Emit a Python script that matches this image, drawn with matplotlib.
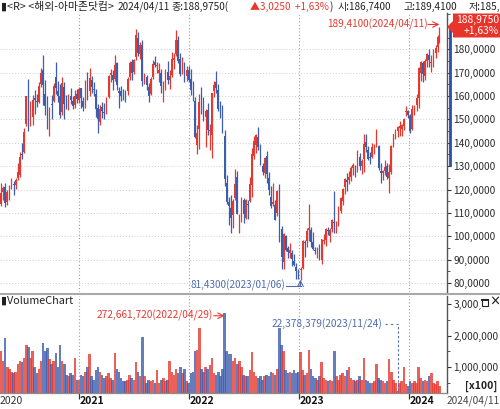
import matplotlib
matplotlib.use('Agg')
import matplotlib.pyplot as plt
import matplotlib.dates as mdates
import matplotlib.transforms as mtransforms
from matplotlib.patches import Polygon, Rectangle
from matplotlib.lines import Line2D
from matplotlib.ticker import MultipleLocator, FuncFormatter
import numpy as np
import pandas as pd

plt.rcParams['font.family'] = ['Noto Sans CJK KR', 'DejaVu Sans']

# ---------------- data (weekly candles) ----------------
week_dates = list(pd.date_range('2020-04-17', '2024-04-05', freq='W-FRI')) + [pd.Timestamp('2024-04-11')]

opens = [
    114.0,119.0,121.0,114.5,119.2,121.0,122.5,122.0,125.0,126.0,135.0,136.0,148.0,163.5,150.0,151.0,159.0,158.0,157.5,165.0,171.0,161.0,157.0,146.0,156.5,158.0,168.0,162.0,160.0,153.0,164.0,157.0,156.0,160.0,158.0,156.0,161.0,
    158.5,163.5,158.0,156.0,165.0,162.0,167.0,163.0,161.0,155.0,149.0,155.5,153.0,153.5,159.5,169.0,169.0,167.5,174.0,162.0,162.0,161.5,161.5,162.0,168.0,174.5,170.5,176.5,185.0,178.0,182.0,167.0,168.0,164.0,161.0,168.0,174.5,173.0,170.0,170.0,161.0,163.0,170.5,167.0,169.0,175.5,178.0,184.0,176.0,171.0,172.0,168.5,171.0,
    167.5,161.5,158.0,139.0,146.0,158.0,152.5,151.0,154.0,145.0,143.5,162.0,166.0,162.5,154.0,152.0,143.0,123.0,114.5,112.0,109.0,116.5,125.5,104.0,107.5,115.5,108.0,114.0,115.0,122.0,134.5,139.0,142.5,137.5,130.0,127.0,134.5,125.0,117.0,114.0,113.5,110.0,119.5,103.0,89.0,100.0,95.0,93.0,93.0,89.5,87.0,84.5,
    85.5,86.5,97.5,98.0,102.5,102.5,97.5,94.0,93.5,95.0,90.0,98.0,98.5,102.5,100.0,103.0,106.0,104.5,106.0,111.0,115.0,121.0,124.0,124.0,125.5,129.0,130.0,130.0,134.0,130.0,133.0,140.5,137.0,134.0,134.0,137.0,138.5,138.5,128.0,127.0,128.0,130.0,125.0,127.5,138.5,144.0,145.0,146.5,146.0,147.0,153.0,153.5,
    151.5,146.0,154.0,156.0,159.0,170.0,174.0,168.5,175.0,177.5,174.0,174.5,178.5,180.8,185.0,
]
highs = [
    123.0,121.6,122.9,120.0,122.1,125.0,123.5,125.0,131.5,136.0,140.0,146.5,160.0,167.2,158.0,160.5,162.5,161.0,166.0,172.0,177.6,167.0,160.0,155.5,160.5,165.5,174.5,166.5,165.0,168.0,166.0,160.5,161.0,163.5,160.0,162.5,163.0,
    164.0,163.6,159.5,167.0,170.5,172.0,168.5,166.0,163.0,156.5,156.0,157.5,157.0,159.5,169.0,171.5,171.0,177.7,174.5,164.0,164.5,163.0,162.5,168.0,175.0,176.0,176.0,188.6,187.5,183.0,184.0,170.0,169.0,165.5,168.0,175.5,177.2,174.5,174.0,171.5,166.5,171.5,175.0,171.0,179.0,178.5,188.1,185.5,178.5,176.5,174.5,173.0,173.0,
    171.4,166.5,159.5,147.5,161.0,163.8,159.5,154.5,157.0,148.0,161.5,166.5,170.8,165.0,158.0,156.0,145.5,126.0,117.0,117.5,116.0,128.9,128.0,109.5,116.7,116.5,116.0,115.5,125.3,137.7,143.0,143.6,146.6,139.5,131.5,134.0,136.5,127.5,121.5,123.0,115.5,120.0,122.3,104.5,101.5,100.5,96.0,97.2,94.0,92.5,88.5,86.0,
    86.9,98.3,98.5,103.5,114.0,103.9,101.9,95.5,95.5,96.5,99.0,101.0,103.5,103.9,103.5,107.3,119.5,106.5,113.0,116.7,120.5,125.0,127.0,127.9,130.0,131.5,130.6,136.7,135.7,133.0,143.6,143.6,138.5,136.0,139.9,139.5,145.9,139.0,131.5,128.5,132.5,131.5,130.8,139.0,143.6,146.0,147.2,149.3,148.0,150.6,155.6,154.0,
    152.4,156.2,156.0,160.7,172.5,175.0,175.0,176.0,178.5,180.1,177.5,180.0,181.7,186.3,189.41,
]
lows = [
    113.0,115.7,112.7,113.5,115.5,120.2,117.5,120.4,124.2,125.5,133.0,135.5,147.0,145.0,147.0,147.5,152.5,155.5,157.0,164.0,156.0,152.0,146.0,143.0,150.0,157.5,161.0,157.5,150.5,152.0,150.0,154.5,154.0,156.5,154.5,155.0,157.0,
    157.0,155.0,153.5,155.0,158.5,160.0,161.5,160.0,151.0,144.1,147.5,150.5,150.0,152.5,159.0,166.0,162.5,166.5,162.5,155.0,158.0,158.5,157.5,160.5,167.0,167.0,169.5,175.5,177.0,176.0,164.5,165.0,162.5,157.4,160.5,167.5,172.5,170.0,166.0,161.5,157.5,162.5,165.0,163.0,168.0,171.5,177.0,174.0,168.5,169.5,166.0,166.5,166.0,
    160.5,158.0,142.0,135.4,137.5,152.5,149.5,138.3,143.5,136.7,133.6,159.5,161.5,153.5,150.5,144.0,121.6,114.0,105.0,101.3,103.5,115.5,109.5,101.4,106.0,105.5,107.5,107.5,114.5,117.0,133.0,135.5,137.0,130.5,126.0,125.0,123.0,117.5,112.1,113.0,107.0,108.5,97.7,85.9,85.9,93.5,90.9,90.5,87.1,87.1,81.7,81.5,
    81.43,86.0,91.2,95.5,98.0,95.6,94.3,92.3,90.9,89.8,88.1,96.5,96.0,100.4,97.7,101.8,101.2,101.2,104.5,109.8,113.5,117.9,119.5,122.5,123.5,126.0,125.5,127.5,128.5,126.5,127.5,136.0,132.5,131.0,133.5,135.0,138.0,128.5,123.0,124.0,126.0,124.5,118.4,126.5,138.0,141.5,142.5,142.8,142.8,145.5,151.5,150.8,
    144.1,145.5,152.0,153.5,155.0,166.5,166.0,167.0,172.5,172.5,170.2,172.5,176.4,179.0,182.5,
]
closes = [
    118.7,120.5,114.3,119.0,120.5,121.8,122.1,124.2,127.3,133.8,134.6,144.5,160.0,148.0,150.4,158.2,158.4,157.4,164.2,170.0,164.7,155.8,147.7,154.8,156.3,164.3,163.6,160.2,151.8,165.6,156.4,155.0,159.8,158.1,155.8,160.0,158.6,
    162.8,159.1,155.2,164.6,160.3,167.6,163.9,162.5,154.6,150.0,154.5,153.7,152.6,158.0,168.6,170.0,167.0,173.4,164.6,161.1,160.2,161.2,160.3,167.3,174.3,170.0,175.5,186.0,178.6,181.9,166.3,167.2,164.6,160.0,167.4,173.9,173.4,173.1,171.2,164.2,164.5,170.5,166.8,168.6,175.9,176.3,183.8,175.2,169.4,173.4,170.0,171.0,166.7,
    162.6,161.2,142.6,144.0,157.6,153.3,151.9,153.8,145.6,145.5,161.3,164.8,163.6,154.5,151.7,144.4,124.3,114.8,113.1,107.6,115.1,122.4,109.7,106.2,116.5,109.6,115.5,113.5,122.4,135.0,140.8,143.2,138.2,130.8,127.5,133.3,126.8,119.9,113.0,114.6,106.9,119.3,103.4,91.0,100.8,94.1,93.4,94.1,90.4,87.9,85.3,84.0,
    86.1,98.1,97.3,102.2,103.4,97.6,94.4,93.5,94.9,90.7,98.9,98.1,103.3,102.1,102.5,107.0,105.5,105.7,110.3,116.3,120.1,124.3,123.4,125.5,129.3,130.4,129.8,134.7,130.0,132.2,139.6,138.4,133.2,133.3,138.1,138.2,140.4,129.1,127.1,128.0,129.8,125.2,127.7,138.6,143.6,145.2,146.7,147.0,147.4,150.0,153.4,151.9,
    145.2,154.6,155.2,159.1,171.8,174.5,169.5,175.0,178.2,175.4,174.4,178.2,180.4,185.1,188.975,
]
# volume in millions of shares
volumes_m = [
    150,120,193,100,95,85,80,85,110,120,115,130,170,165,130,150,100,80,95,120,175,150,160,125,110,120,145,100,170,120,110,75,70,80,75,130,60,
    60,75,70,85,100,140,70,60,90,100,85,75,65,70,80,65,60,145,95,85,65,55,55,60,75,65,60,115,85,70,196,70,50,60,55,60,50,90,50,60,65,55,60,120,85,75,95,80,100,80,95,55,50,
    80,85,150,155,224,95,85,100,95,105,130,80,75,85,70,95,272.66,150,140,140,120,130,110,120,100,75,70,70,90,148,85,70,65,70,60,70,75,70,85,80,75,95,223,170,150,90,80,85,80,90,80,85,
    148,90,75,80,155,95,70,65,60,70,115,65,60,55,60,55,150,70,60,75,80,70,90,100,65,60,55,60,70,60,130,60,55,50,50,55,110,65,60,55,50,55,125,85,60,50,22.378,50,55,100,45,40,
    55,50,55,50,100,65,55,60,55,70,80,50,45,55,40,
]

year_starts = ['2021-01-01', '2022-01-01', '2023-01-01', '2024-01-01']
year_labels = ['2021', '2022', '2023', '2024']
price_ticks = [80, 90, 100, 110, 120, 130, 140, 150, 160, 170, 180]
vol_ticks = [1000000, 2000000, 3000000]

header_dark1 = '▮<R> <해외-아마존닷컴>'
header_date = '2024/04/11'
header_close = '종:188,9750('
header_change = '▲3,0250  +1,63%'
header_rest = [(')', 330), ('시:186,7400', 338), ('고:189,4100', 404), ('저:185,5', 469)]
last_price = 188.975
last_change = '+1,63%'
max_price, max_price_date = 189.41, '2024/04/11'
min_price, min_price_date = 81.43, '2023/01/06'
max_vol, max_vol_date = 272661720, '2022/04/29'
min_vol, min_vol_date = 22378379, '2023/11/24'

n = len(week_dates)
assert all(len(a) == n for a in (opens, highs, lows, closes, volumes_m))

o = np.array(opens); h = np.array(highs); l = np.array(lows); c = np.array(closes)
vol = np.array(volumes_m) * 1e6 / 100.0   # axis is in units of x100 shares
xd = mdates.date2num(week_dates)

RED = '#e5392f'
BLUE = '#3d5daf'
ANN_BLUE = '#4f6db0'
up = c >= o
cols = np.where(up, RED, BLUE)

# ---------------- figure / layout ----------------
W, H = 500, 409
fig = plt.figure(figsize=(W / 100, H / 100), dpi=100)
fig.patch.set_facecolor('white')

def fx(px):
    return px / W

def fy(py):
    return 1 - py / H

ax = fig.add_axes([0, fy(292), fx(447), (292 - 13) / H])
ax2 = fig.add_axes([0, fy(393), fx(447), (393 - 296) / H])

x_2021 = mdates.date2num(pd.Timestamp('2021-01-01'))
dpp = 1095 / 330.0
xlim = (x_2021 - 79 * dpp, x_2021 + 368 * dpp)
for a in (ax, ax2):
    a.set_xlim(*xlim)
    a.set_facecolor('white')
    for s in ('top', 'left', 'bottom'):
        a.spines[s].set_visible(False)
    a.spines['right'].set_color('#555555')
    a.spines['right'].set_linewidth(1.0)
    a.yaxis.tick_right()
    a.tick_params(axis='y', which='major', length=3, width=0.8, colors='#333333',
                  labelsize=7.3, pad=1.5, labelcolor='#2a2a2a')
    a.tick_params(axis='y', which='minor', length=2, width=0.6, colors='#333333')

ppx = 2.337
ax.set_ylim(80 - 9 / ppx, 80 + 270 / ppx)
ax.set_yticks(price_ticks)
ax.yaxis.set_minor_locator(MultipleLocator(5))
ax.yaxis.set_major_formatter(FuncFormatter(lambda v, p: f'{v:.4f}'.replace('.', ',')))
ax.set_xticks([])

vpx = 31.5 / 1e6
ax2.set_ylim(1e6 - 26 / vpx, 3e6 + 8 / vpx)
ax2.set_yticks(vol_ticks)
ax2.yaxis.set_minor_locator(MultipleLocator(500000))
ax2.yaxis.set_major_formatter(FuncFormatter(lambda v, p: f'{int(round(v)):,}'))
ax2.spines['bottom'].set_visible(True)
ax2.spines['bottom'].set_color('#8a8a8a')
ax2.spines['bottom'].set_linewidth(0.9)
ys = mdates.date2num([pd.Timestamp(d) for d in year_starts])
ax2.set_xticks(ys)
ax2.set_xticklabels([])
ax2.tick_params(axis='x', length=4, width=0.9, colors='#333333', direction='out')

# grid
for v in price_ticks:
    ax.axhline(v, color='#cdcdcd', lw=0.7, ls=(0, (1, 2)), zorder=0)
for a in (ax, ax2):
    for xv in ys:
        a.axvline(xv, color='#9c9c9c', lw=0.8, ls=(0, (1, 2)), zorder=0)

# candles
ax.vlines(xd, l, h, colors=cols, linewidth=0.9, zorder=2)
ax.bar(xd, np.maximum(np.abs(c - o), 0.3), bottom=np.minimum(o, c), width=5.5,
       color=cols, linewidth=0, zorder=3)

# volume
ax2.bar(xd, vol, width=8.5, color=cols, linewidth=0, alpha=0.8, zorder=2)

# right-axis blue bar and red last-price tag
btr = mtransforms.blended_transform_factory(ax.transAxes, ax.transData)
ax.plot([449.6 / 447, 449.6 / 447], [130, last_price], transform=btr, color='#2a50a6',
        lw=2.0, solid_capstyle='butt', clip_on=False, zorder=5)

tag = Polygon([(fx(447), fy(27)), (fx(453), fy(21)), (fx(453), fy(13.5)), (fx(500), fy(13.5)),
               (fx(500), fy(37.5)), (fx(453), fy(37.5)), (fx(453), fy(33))],
              closed=True, transform=fig.transFigure, facecolor='#e8342b', edgecolor='none', zorder=10)
fig.add_artist(tag)
fig.text(fx(499), fy(19.5), f'{last_price:.4f}'.replace('.', ','), color='white', fontsize=7.4,
         ha='right', va='center', zorder=11)
fig.text(fx(499), fy(30.5), last_change, color='white', fontsize=7.4, ha='right', va='center', zorder=11)

# price annotations
i_max = int(np.argmax(h)); i_min = int(np.argmin(l))
ax.annotate('', xy=(xd[i_max], max_price + 1.2), xytext=(xd[i_max] - 38, max_price + 1.2),
            arrowprops=dict(arrowstyle='->', color=RED, lw=0.8, shrinkA=0, shrinkB=0))
ax.text(xd[i_max] - 40, max_price + 1.2, f'{max_price:.4f}'.replace('.', ',') + f'({max_price_date})',
        color=RED, fontsize=7.2, ha='right', va='center')
ax.annotate('', xy=(xd[i_min], min_price), xytext=(xd[i_min], min_price - 2.6),
            arrowprops=dict(arrowstyle='->', color=ANN_BLUE, lw=0.8, shrinkA=0, shrinkB=0))
ax.plot([xd[i_min] - 48, xd[i_min]], [min_price - 2.6, min_price - 2.6], color=ANN_BLUE, lw=0.8)
ax.text(xd[i_min] - 52, min_price - 2.6, f'{min_price:.4f}'.replace('.', ',') + f'({min_price_date})',
        color=ANN_BLUE, fontsize=7.2, ha='right', va='center')

# volume annotations
vmax_i = int(np.argmax(vol)); vmin_i = int(np.argmin(vol))
yv_max = max_vol / 100 - 0.1e6
ax2.annotate('', xy=(xd[vmax_i], yv_max), xytext=(xd[vmax_i] - 36, yv_max),
             arrowprops=dict(arrowstyle='->', color=RED, lw=0.8, shrinkA=0, shrinkB=0))
ax2.text(xd[vmax_i] - 38, yv_max, f'{max_vol:,}({max_vol_date})', color=RED, fontsize=7.3,
         ha='right', va='center')
yv_min = 2.35e6
ax2.plot([xd[vmin_i], xd[vmin_i]], [vol[vmin_i], yv_min], color=ANN_BLUE, lw=0.8, ls=(0, (2, 2)))
ax2.plot([xd[vmin_i] - 40, xd[vmin_i]], [yv_min, yv_min], color=ANN_BLUE, lw=0.8, ls=(0, (2, 3)))
ax2.text(xd[vmin_i] - 50, yv_min, f'{min_vol:,}({min_vol_date})', color=ANN_BLUE, fontsize=7.3,
         ha='right', va='center')

# panel titles / header
fig.text(fx(1), fy(6.5), header_dark1, color='#222222', fontsize=7.8, va='center', ha='left')
fig.text(fx(118), fy(6.5), header_date, color='#222222', fontsize=7.2, va='center', ha='left')
fig.text(fx(171), fy(6.5), header_close, color='#222222', fontsize=7.2, va='center', ha='left')
fig.text(fx(250), fy(6.5), header_change, color=RED, fontsize=7.2, va='center', ha='left')
for t, xp in header_rest:
    fig.text(fx(xp), fy(6.5), t, color='#222222', fontsize=7.2, va='center', ha='left')
fig.text(fx(1), fy(301), '▮VolumeChart', color='#222222', fontsize=7.8, va='center', ha='left')

# separator between panels
fig.add_artist(Line2D([0, 1], [fy(293.6), fy(293.6)], transform=fig.transFigure,
                      color='#a9a9a9', lw=1.5))

# window icons over the volume axis
fig.add_artist(Rectangle((fx(479), fy(308)), fx(21), 12 / H, transform=fig.transFigure,
                         facecolor='white', edgecolor='none', zorder=12))
fig.add_artist(Rectangle((fx(481.5), fy(305.5)), fx(6.5), 6.5 / H, transform=fig.transFigure,
                         facecolor='white', edgecolor='#222222', lw=0.8, zorder=13))
fig.add_artist(Line2D([fx(481.5), fx(488)], [fy(299.8), fy(299.8)], transform=fig.transFigure,
                      color='#222222', lw=1.4, zorder=14))
fig.text(fx(494.5), fy(302), '×', color='#222222', fontsize=8, ha='center', va='center',
         fontweight='bold', zorder=14)
fig.text(fx(497), fy(386.5), '[x100]', color='#222222', fontsize=7.5, ha='right', va='center',
         fontweight='bold')

# x labels
fig.text(fx(0), fy(400.5), '2020', color='#333333', fontsize=7.5, ha='left', va='center')
btx = mtransforms.blended_transform_factory(ax2.transData, fig.transFigure)
for xv, lab in zip(ys, year_labels):
    ax2.text(xv + 3, fy(400.5), lab, transform=btx, color='#111111', fontsize=7.5,
             fontweight='bold', ha='left', va='center', clip_on=False)
fig.text(fx(499.5), fy(400.5), '2024/04/11', color='#444444', fontsize=7.3, ha='right', va='center')

fig.savefig('out.png', dpi=100, facecolor='white')
